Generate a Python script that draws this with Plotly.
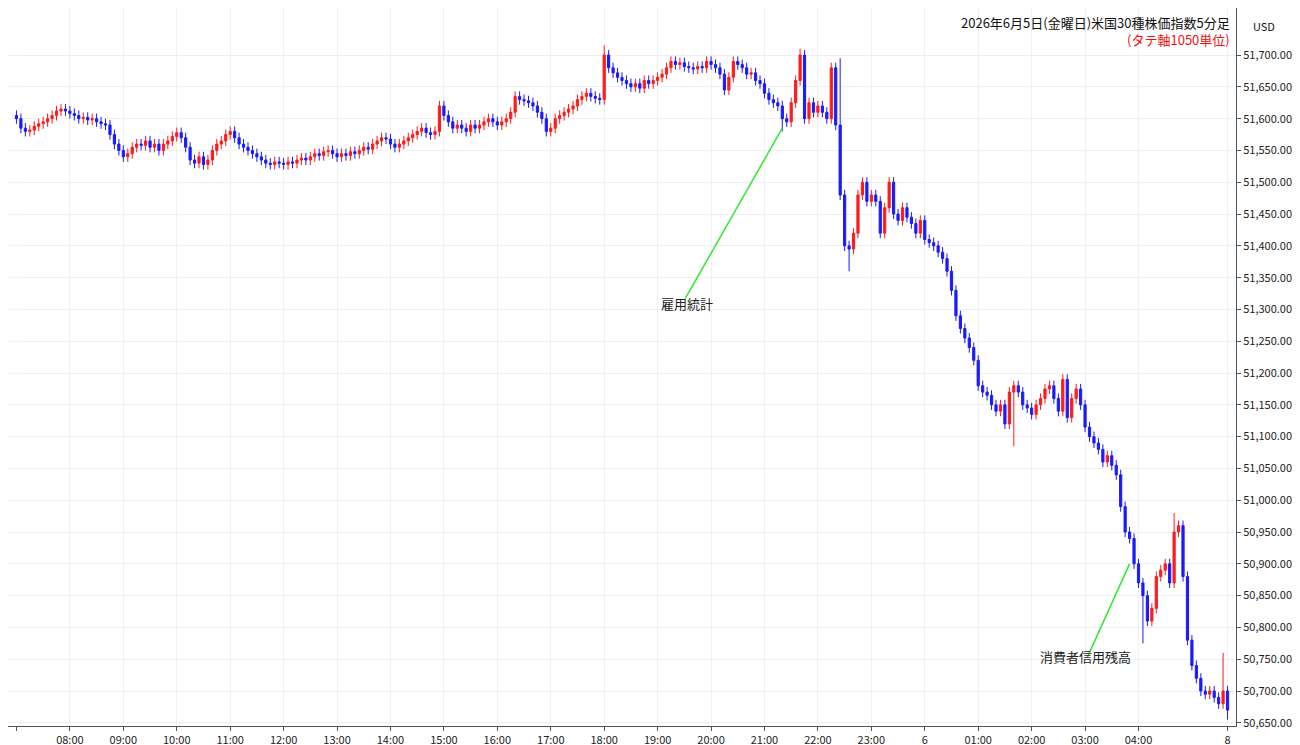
import plotly.graph_objects as go

# 5-minute closes, one row per hour starting 07:00
closes = [
    51600, 51585, 51580, 51582, 51588, 51592, 51595, 51600, 51605, 51612, 51615, 51612,
    51608, 51605, 51600, 51602, 51598, 51600, 51595, 51592, 51590, 51575, 51560, 51550,
    51540, 51545, 51555, 51560, 51558, 51565, 51555, 51560, 51550, 51560, 51565, 51572,
    51578, 51570, 51555, 51535, 51530, 51540, 51528, 51535, 51550, 51560, 51565, 51575,
    51580, 51570, 51560, 51555, 51550, 51545, 51540, 51535, 51530, 51528, 51532, 51530,
    51528, 51532, 51530, 51535, 51538, 51535, 51540, 51545, 51542, 51548, 51550, 51545,
    51540, 51545, 51542, 51548, 51545, 51550, 51555, 51552, 51560, 51565, 51570, 51568,
    51560, 51555, 51560, 51565, 51570, 51575, 51580, 51585, 51578, 51575, 51580, 51620,
    51605, 51595, 51585, 51590, 51585, 51580, 51590, 51585, 51590, 51595, 51600, 51595,
    51590, 51595, 51600, 51610, 51635, 51630, 51628, 51625, 51620, 51610, 51600, 51580,
    51585, 51600, 51605, 51610, 51615, 51620, 51630, 51635, 51640, 51635, 51632, 51630,
    51700, 51680, 51672, 51665, 51660, 51655, 51650, 51655, 51648, 51660, 51655, 51660,
    51665, 51670, 51680, 51690, 51685, 51688, 51682, 51680, 51678, 51682, 51680, 51690,
    51685, 51680, 51670, 51645, 51665, 51690, 51685, 51680, 51670, 51672, 51660, 51655,
    51640, 51630, 51625, 51620, 51600, 51595, 51625, 51660, 51700, 51600, 51625, 51610,
    51620, 51610, 51600, 51680, 51590, 51480, 51400, 51395, 51420, 51480, 51500, 51470,
    51480, 51470, 51420, 51460, 51500, 51450, 51440, 51460, 51445, 51435, 51420, 51440,
    51410, 51405, 51400, 51390, 51380, 51360, 51330, 51290, 51270, 51255, 51240, 51220,
    51180, 51170, 51165, 51150, 51140, 51150, 51120, 51170, 51180, 51170, 51150, 51145,
    51135, 51150, 51160, 51175, 51180, 51160, 51140, 51190, 51130, 51160, 51175, 51150,
    51115, 51100, 51090, 51080, 51060, 51070, 51055, 51040, 50990, 50950, 50940, 50900,
    50870, 50850, 50810, 50830, 50880, 50890, 50900, 50870, 50950, 50960, 50880, 50780,
    50740, 50720, 50700, 50695, 50700, 50690, 50680, 50700, 50670,
]
first_open = 51605
wick = 8
high_override = {132: 51715, 176: 51710, 185: 51695, 260: 50980, 271: 50760}
low_override = {172: 51580, 187: 51360, 224: 51085, 253: 50775, 272: 50655}

tick_idx = [0, 12, 24, 36, 48, 60, 72, 84, 96, 108, 120, 132, 144, 156, 168, 180, 192,
            204, 216, 228, 240, 252, 272]
tick_txt = ["7:00", "08:00", "09:00", "10:00", "11:00", "12:00", "13:00", "14:00", "15:00",
            "16:00", "17:00", "18:00", "19:00", "20:00", "21:00", "22:00", "23:00", "6",
            "01:00", "02:00", "03:00", "04:00", "8"]
price_ticks = list(range(50650, 51701, 50))

opens = [first_open] + closes[:-1]
idx = list(range(len(closes)))
highs = [high_override.get(i, max(o, c) + wick) for i, (o, c) in enumerate(zip(opens, closes))]
lows = [low_override.get(i, min(o, c) - wick) for i, (o, c) in enumerate(zip(opens, closes))]

fig = go.Figure(go.Candlestick(
    x=idx, open=opens, high=highs, low=lows, close=closes,
    increasing=dict(line=dict(color="#ff1a1a", width=1), fillcolor="#ff1a1a"),
    decreasing=dict(line=dict(color="#1a1aff", width=1), fillcolor="#1a1aff"),
    whiskerwidth=0,
))

green = "#33e633"
fig.add_annotation(x=172, y=51585, ax=-98, ay=172, text="", showarrow=True,
                   arrowhead=0, arrowwidth=1.5, arrowcolor=green)
fig.add_annotation(x=150.5, y=51310, text="雇用統計", showarrow=False,
                   font=dict(size=13, color="#222"))
fig.add_annotation(x=250, y=50900, ax=-43, ay=95, text="", showarrow=True,
                   arrowhead=0, arrowwidth=1.5, arrowcolor=green)
fig.add_annotation(x=240, y=50755, text="消費者信用残高", showarrow=False,
                   font=dict(size=13, color="#222"))

fig.add_annotation(xref="paper", yref="paper", x=1, y=1, xanchor="right", yanchor="top",
                   text="2026年6月5日(金曜日)米国30種株価指数5分足<br>"
                        "<span style='color:#ee1111'>(タテ軸1050単位)</span>",
                   align="right", showarrow=False,
                   font=dict(size=13, color="#111"), yshift=-3, xshift=-4)
fig.add_annotation(xref="paper", yref="paper", x=1.012, y=1, xanchor="left", yanchor="top",
                   text="USD", showarrow=False, font=dict(size=11, color="#111"), yshift=-8)

fig.update_layout(
    width=1300, height=745,
    margin=dict(l=0, r=72, t=0, b=27),
    paper_bgcolor="white", plot_bgcolor="white",
    showlegend=False,
    font=dict(family="Noto Sans CJK JP, Noto Sans, sans-serif", size=11, color="#222"),
    xaxis=dict(range=[-1.9, 273.9], tickvals=tick_idx, ticktext=tick_txt,
               showgrid=True, gridcolor="#eef0f3", rangeslider_visible=False,
               showline=True, linecolor="#555", ticks="outside", ticklen=4, tickcolor="#555"),
    yaxis=dict(side="right", range=[50645, 51774], tickvals=price_ticks, tickformat=",.2f",
               showgrid=True, gridcolor="#eef0f3", showline=True, linecolor="#555",
               ticks="outside", ticklen=4, tickcolor="#555"),
)

fig.write_html("out.html")
